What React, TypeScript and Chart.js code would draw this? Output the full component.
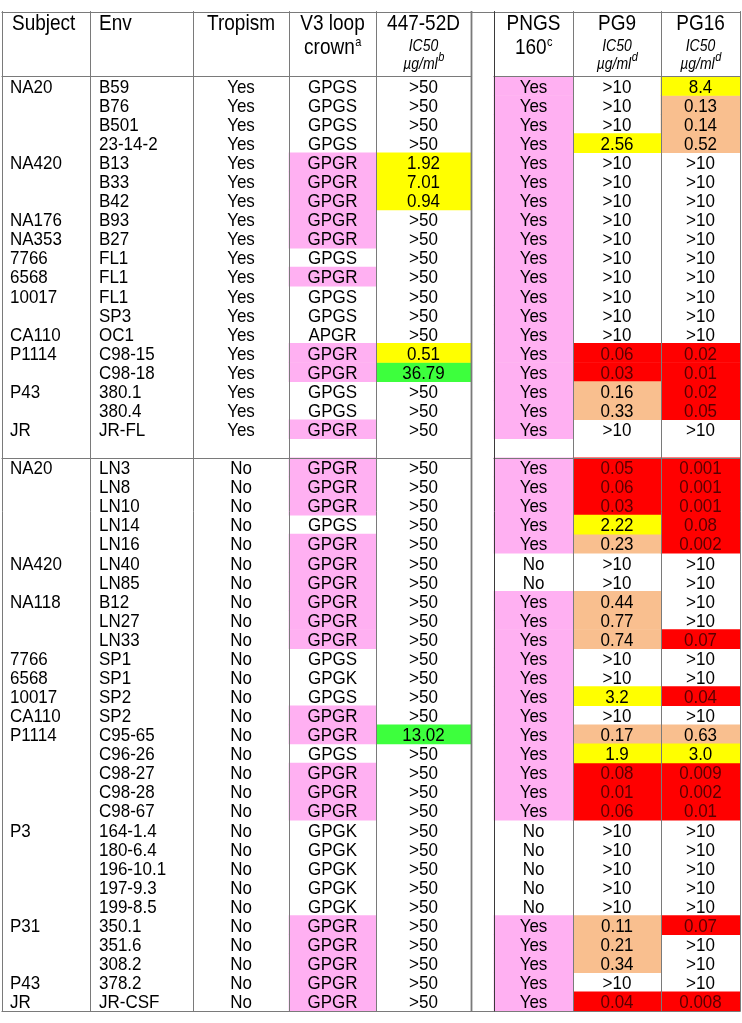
import React, { useEffect, useRef } from "react";
import { Chart, registerables } from "chart.js";

Chart.register(...registerables);

// ---------------- data ----------------
const subjectCol: string[] = [
  "NA20", "", "", "", "NA420", "", "", "NA176", "NA353", "7766", "6568", "10017", "", "CA110", "P1114", "", "P43", "", "JR", "",
  "NA20", "", "", "", "", "NA420", "", "NA118", "", "", "7766", "6568", "10017", "CA110", "P1114", "", "", "", "", "P3", "", "", "", "", "P31", "", "", "P43", "JR",
];
const envCol: string[] = [
  "B59", "B76", "B501", "23-14-2", "B13", "B33", "B42", "B93", "B27", "FL1", "FL1", "FL1", "SP3", "OC1", "C98-15", "C98-18", "380.1", "380.4", "JR-FL", "",
  "LN3", "LN8", "LN10", "LN14", "LN16", "LN40", "LN85", "B12", "LN27", "LN33", "SP1", "SP1", "SP2", "SP2", "C95-65", "C96-26", "C98-27", "C98-28", "C98-67",
  "164-1.4", "180-6.4", "196-10.1", "197-9.3", "199-8.5", "350.1", "351.6", "308.2", "378.2", "JR-CSF",
];
const tropismCol: string[] = [
  "Yes", "Yes", "Yes", "Yes", "Yes", "Yes", "Yes", "Yes", "Yes", "Yes", "Yes", "Yes", "Yes", "Yes", "Yes", "Yes", "Yes", "Yes", "Yes", "",
  "No", "No", "No", "No", "No", "No", "No", "No", "No", "No", "No", "No", "No", "No", "No", "No", "No", "No", "No",
  "No", "No", "No", "No", "No", "No", "No", "No", "No", "No",
];
const v3CrownCol: string[] = [
  "GPGS", "GPGS", "GPGS", "GPGS", "GPGR", "GPGR", "GPGR", "GPGR", "GPGR", "GPGS", "GPGR", "GPGS", "GPGS", "APGR", "GPGR", "GPGR", "GPGS", "GPGS", "GPGR", "",
  "GPGR", "GPGR", "GPGR", "GPGS", "GPGR", "GPGR", "GPGR", "GPGR", "GPGR", "GPGR", "GPGS", "GPGK", "GPGS", "GPGR", "GPGR", "GPGS", "GPGR", "GPGR", "GPGR",
  "GPGK", "GPGK", "GPGK", "GPGK", "GPGK", "GPGR", "GPGR", "GPGR", "GPGR", "GPGR",
];
const ic447Col: string[] = [
  ">50", ">50", ">50", ">50", "1.92", "7.01", "0.94", ">50", ">50", ">50", ">50", ">50", ">50", ">50", "0.51", "36.79", ">50", ">50", ">50", "",
  ">50", ">50", ">50", ">50", ">50", ">50", ">50", ">50", ">50", ">50", ">50", ">50", ">50", ">50", "13.02", ">50", ">50", ">50", ">50",
  ">50", ">50", ">50", ">50", ">50", ">50", ">50", ">50", ">50", ">50",
];
const pngsCol: string[] = [
  "Yes", "Yes", "Yes", "Yes", "Yes", "Yes", "Yes", "Yes", "Yes", "Yes", "Yes", "Yes", "Yes", "Yes", "Yes", "Yes", "Yes", "Yes", "Yes", "",
  "Yes", "Yes", "Yes", "Yes", "Yes", "No", "No", "Yes", "Yes", "Yes", "Yes", "Yes", "Yes", "Yes", "Yes", "Yes", "Yes", "Yes", "Yes",
  "No", "No", "No", "No", "No", "Yes", "Yes", "Yes", "Yes", "Yes",
];
const pg9Col: string[] = [
  ">10", ">10", ">10", "2.56", ">10", ">10", ">10", ">10", ">10", ">10", ">10", ">10", ">10", ">10", "0.06", "0.03", "0.16", "0.33", ">10", "",
  "0.05", "0.06", "0.03", "2.22", "0.23", ">10", ">10", "0.44", "0.77", "0.74", ">10", ">10", "3.2", ">10", "0.17", "1.9", "0.08", "0.01", "0.06",
  ">10", ">10", ">10", ">10", ">10", "0.11", "0.21", "0.34", ">10", "0.04",
];
const pg16Col: string[] = [
  "8.4", "0.13", "0.14", "0.52", ">10", ">10", ">10", ">10", ">10", ">10", ">10", ">10", ">10", ">10", "0.02", "0.01", "0.02", "0.05", ">10", "",
  "0.001", "0.001", "0.001", "0.08", "0.002", ">10", ">10", ">10", ">10", "0.07", ">10", ">10", "0.04", ">10", "0.63", "3.0", "0.009", "0.002", "0.01",
  ">10", ">10", ">10", ">10", ">10", "0.07", ">10", ">10", ">10", "0.008",
];
const UPPER_ROWS = 20; // 19 X4 rows + blank row
const TOTAL_ROWS = subjectCol.length;

// ---------------- layout / style ----------------
const W = 742;
const H = 1023;
const TOP_PX = 2;
const BOTTOM_PX = 1020.5;
const HEADER_ROWS = 3.4;
const PX_PER_ROW = (BOTTOM_PX - TOP_PX) / (HEADER_ROWS + TOTAL_ROWS);
const Y_MIN = -HEADER_ROWS - TOP_PX / PX_PER_ROW;
const Y_MAX = TOTAL_ROWS + (H - BOTTOM_PX) / PX_PER_ROW;

type ColDef = { key: string; x0: number; x1: number; align: "left" | "center"; pad?: number };
const COLS: ColDef[] = [
  { key: "subject", x0: 2, x1: 90, align: "left", pad: 8 },
  { key: "env", x0: 90, x1: 193, align: "left", pad: 9 },
  { key: "tropism", x0: 193, x1: 289, align: "center" },
  { key: "v3", x0: 289, x1: 376, align: "center" },
  { key: "ic447", x0: 376, x1: 471, align: "center" },
  { key: "pngs", x0: 494, x1: 573, align: "center" },
  { key: "pg9", x0: 573, x1: 661, align: "center" },
  { key: "pg16", x0: 661, x1: 740, align: "center" },
];
const colValues: Record<string, string[]> = {
  subject: subjectCol,
  env: envCol,
  tropism: tropismCol,
  v3: v3CrownCol,
  ic447: ic447Col,
  pngs: pngsCol,
  pg9: pg9Col,
  pg16: pg16Col,
};

const PINK = "#FFB0F2";
const YELLOW = "#FFFF00";
const PEACH = "#F9BF8F";
const RED = "#FF0000";
const GREEN = "#3DFF3D";
const LINE = "#7a7a7a";
const FONT = "'Liberation Sans', Arial, sans-serif";
const SY = 1.12; // vertical stretch of the lettering

function cellColor(key: string, v: string): string | null {
  if (!v) return null;
  if (key === "v3") return v === "GPGR" ? PINK : null;
  if (key === "pngs") return v === "Yes" ? PINK : null;
  const n = parseFloat(v);
  if (v.startsWith(">") || isNaN(n)) return null;
  if (key === "ic447") return n >= 10 ? GREEN : YELLOW;
  if (key === "pg9" || key === "pg16") {
    if (n < 0.1) return RED;
    if (n < 1) return PEACH;
    return YELLOW;
  }
  return null;
}

function buildDatasets() {
  const groups: Record<string, { x: [number, number]; y: number }[]> = {};
  const order = [PINK, YELLOW, PEACH, RED, GREEN];
  order.forEach((c) => (groups[c] = []));
  COLS.forEach((col) => {
    colValues[col.key].forEach((v, r) => {
      const c = cellColor(col.key, v);
      if (c) groups[c].push({ x: [col.x0, col.x1], y: r + 0.5 });
    });
  });
  return order.map((c) => ({
    label: c,
    data: groups[c],
    backgroundColor: c,
    borderWidth: 0,
  }));
}

const tablePlugin = {
  id: "tableDraw",
  afterDatasetsDraw(chart: any) {
    const ctx: CanvasRenderingContext2D = chart.ctx;
    const xs = chart.scales.x;
    const ys = chart.scales.y;
    const px = (v: number) => xs.getPixelForValue(v);
    const py = (v: number) => ys.getPixelForValue(v);
    const crisp = (p: number) => Math.round(p) + 0.5;
    const text = (s: string, x: number, y: number) => {
      ctx.save();
      ctx.translate(x, y);
      ctx.scale(1, SY);
      ctx.fillText(s, 0, 0);
      ctx.restore();
    };
    ctx.save();

    // ---- grid lines ----
    ctx.strokeStyle = LINE;
    ctx.lineWidth = 1;
    const hline = (yv: number, segs: [number, number][]) => {
      const yy = crisp(py(yv));
      segs.forEach(([a, b]) => {
        ctx.beginPath();
        ctx.moveTo(px(a) - 0.5, yy);
        ctx.lineTo(px(b) + 0.5, yy);
        ctx.stroke();
      });
    };
    const split: [number, number][] = [
      [2, 471],
      [494, 740],
    ];
    hline(-HEADER_ROWS, [[2, 740]]);
    hline(0, split);
    hline(UPPER_ROWS, split);
    hline(TOTAL_ROWS, [[2, 740]]);
    const vx = [2, 90, 193, 289, 376, 471, 494, 573, 661, 740];
    vx.forEach((x) => {
      const xx = crisp(px(x));
      ctx.beginPath();
      ctx.lineWidth = x === 471 ? 1.8 : 1;
      ctx.strokeStyle = x === 494 ? "#3a3a3a" : LINE;
      ctx.moveTo(xx, py(-HEADER_ROWS) - 0.5);
      ctx.lineTo(xx, py(TOTAL_ROWS) + 0.5);
      ctx.stroke();
    });

    // ---- header ----
    const top = py(-HEADER_ROWS);
    const drawSup = (main: string, sup: string, cx: number, base: number, mainFont: string, supFont: string) => {
      ctx.font = mainFont;
      const mw = ctx.measureText(main).width;
      ctx.font = supFont;
      const sw = sup ? ctx.measureText(sup).width : 0;
      const start = cx - (mw + sw) / 2;
      ctx.textAlign = "left";
      ctx.font = mainFont;
      text(main, start, base);
      if (sup) {
        ctx.font = supFont;
        text(sup, start + mw + 0.5, base - 8);
      }
    };
    ctx.fillStyle = "#000";
    ctx.textBaseline = "alphabetic";
    const hFont = `19px ${FONT}`;
    const iFont = `italic 14px ${FONT}`;
    const sFont = `11px ${FONT}`;
    const siFont = `italic 11px ${FONT}`;
    const l1 = top + 18;
    const l2 = top + 42;
    const i1 = top + 39;
    const i2 = top + 57;
    const cx = (c: ColDef) => (px(c.x0) + px(c.x1)) / 2;
    ctx.font = hFont;
    ctx.textAlign = "left";
    text("Subject", px(COLS[0].x0) + 10, l1);
    text("Env", px(COLS[1].x0) + 9, l1);
    ctx.textAlign = "center";
    text("Tropism", cx(COLS[2]), l1);
    text("V3 loop", cx(COLS[3]), l1);
    drawSup("crown", "a", cx(COLS[3]), l2, hFont, sFont);
    ctx.textAlign = "center";
    ctx.font = hFont;
    text("447-52D", cx(COLS[4]), l1);
    ctx.font = iFont;
    text("IC50", cx(COLS[4]), i1);
    drawSup("µg/ml", "b", cx(COLS[4]), i2, iFont, siFont);
    ctx.textAlign = "center";
    ctx.font = hFont;
    text("PNGS", cx(COLS[5]), l1);
    drawSup("160", "c", cx(COLS[5]), l2, hFont, sFont);
    [COLS[6], COLS[7]].forEach((c, i) => {
      ctx.textAlign = "center";
      ctx.font = hFont;
      text(i === 0 ? "PG9" : "PG16", cx(c), l1);
      ctx.font = iFont;
      text("IC50", cx(c), i1);
      drawSup("µg/ml", "d", cx(c), i2, iFont, siFont);
    });

    // ---- body ----
    ctx.font = `17px ${FONT}`;
    for (let r = 0; r < TOTAL_ROWS; r++) {
      const base = py(r + 0.5) + 6.8;
      COLS.forEach((c) => {
        const v = colValues[c.key][r];
        if (!v) return;
        const bg = cellColor(c.key, v);
        ctx.fillStyle = bg === RED ? "#5a0000" : "#000";
        if (c.align === "left") {
          ctx.textAlign = "left";
          text(v, px(c.x0) + (c.pad || 6), base);
        } else {
          ctx.textAlign = "center";
          text(v, cx(c), base);
        }
      });
    }
    ctx.restore();
  },
};

export default function App() {
  const ref = useRef<HTMLCanvasElement>(null);
  useEffect(() => {
    if (!ref.current) return;
    const chart = new Chart(ref.current, {
      type: "bar",
      data: { datasets: buildDatasets() as any },
      options: {
        responsive: false,
        maintainAspectRatio: false,
        animation: false,
        devicePixelRatio: 1,
        indexAxis: "y",
        layout: { padding: 0 },
        datasets: {
          bar: { grouped: false, barPercentage: 1, categoryPercentage: 1 },
        } as any,
        plugins: {
          legend: { display: false },
          tooltip: { enabled: false },
        },
        scales: {
          x: { type: "linear", min: 0, max: W, display: false },
          y: { type: "linear", min: Y_MIN, max: Y_MAX, reverse: true, display: false, ticks: { stepSize: 1 } },
        },
      },
      plugins: [tablePlugin],
    });
    return () => chart.destroy();
  }, []);
  return (
    <div style={{ position: "absolute", left: 0, top: 0, width: W, height: H, background: "#fff" }}>
      <canvas ref={ref} width={W} height={H} style={{ display: "block" }} />
    </div>
  );
}
